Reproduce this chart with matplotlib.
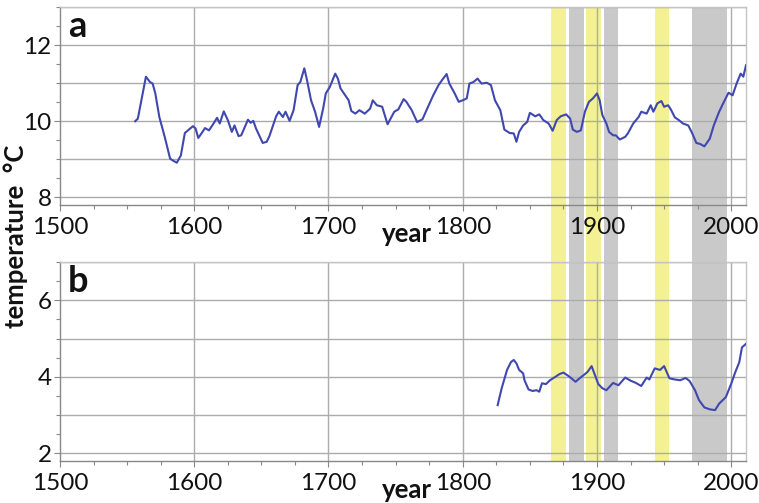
import matplotlib
matplotlib.use('Agg')
import matplotlib.pyplot as plt
from matplotlib.patches import Rectangle
from matplotlib.ticker import MultipleLocator
import matplotlib.transforms as mtransforms

# panel a: temperature series (°C)
years_a = [1556, 1558, 1564, 1567, 1569, 1571, 1574, 1578, 1582, 1584, 1587, 1590,
           1593, 1595, 1599, 1601, 1603, 1605, 1608, 1611, 1614, 1617, 1619, 1622,
           1625, 1628, 1630, 1633, 1635, 1640, 1642, 1644, 1646, 1651, 1654, 1656,
           1661, 1663, 1666, 1668, 1671, 1674, 1677, 1679, 1682, 1684, 1687, 1690,
           1693, 1696, 1698, 1701, 1705, 1707, 1709, 1715, 1717, 1720, 1723, 1727,
           1731, 1733, 1736, 1740, 1744, 1749, 1752, 1756, 1758, 1762, 1766, 1770,
           1773, 1778, 1782, 1785, 1788, 1790, 1794, 1797, 1800, 1803, 1805, 1808,
           1811, 1814, 1818, 1821, 1824, 1828, 1831, 1835, 1838, 1840, 1842, 1845,
           1848, 1850, 1854, 1857, 1860, 1864, 1867, 1870, 1873, 1877, 1880, 1882,
           1885, 1888, 1891, 1894, 1897, 1900, 1902, 1904, 1907, 1909, 1912, 1914,
           1917, 1921, 1923, 1927, 1931, 1933, 1937, 1940, 1942, 1945, 1948, 1950,
           1953, 1955, 1958, 1961, 1964, 1968, 1971, 1974, 1977, 1980, 1984, 1987,
           1991, 1994, 1998, 2001, 2004, 2007, 2009, 2011]
temp_a = [10.0, 10.07, 11.17, 11.03, 10.99, 10.73, 10.11, 9.59, 9.02, 8.97, 8.91, 9.1,
          9.69, 9.75, 9.87, 9.81, 9.56, 9.66, 9.82, 9.76, 9.92, 10.09, 9.94, 10.26,
          10.03, 9.72, 9.89, 9.61, 9.63, 10.04, 9.96, 10.01, 9.81, 9.43, 9.46, 9.61,
          10.13, 10.25, 10.11, 10.25, 10.01, 10.29, 10.95, 11.03, 11.39, 11.08, 10.55, 10.25,
          9.85, 10.33, 10.73, 10.9, 11.25, 11.12, 10.86, 10.55, 10.27, 10.2, 10.29, 10.2,
          10.33, 10.55, 10.42, 10.38, 9.92, 10.25, 10.31, 10.58, 10.51, 10.29, 9.98, 10.05,
          10.29, 10.68, 10.95, 11.1, 11.24, 10.99, 10.73, 10.51, 10.55, 10.6, 10.99, 11.03,
          11.12, 10.99, 11.01, 10.95, 10.55, 10.29, 9.78, 9.69, 9.68, 9.46, 9.72, 9.89,
          9.98, 10.22, 10.13, 10.18, 10.03, 9.94, 9.75, 10.03, 10.13, 10.18, 10.07, 9.78,
          9.72, 9.76, 10.25, 10.51, 10.6, 10.73, 10.55, 10.16, 9.94, 9.72, 9.63, 9.63,
          9.52, 9.59, 9.68, 9.94, 10.11, 10.25, 10.2, 10.42, 10.25, 10.47, 10.53, 10.38,
          10.42, 10.31, 10.1, 10.03, 9.94, 9.89, 9.68, 9.43, 9.4, 9.34, 9.54, 9.89,
          10.25, 10.47, 10.75, 10.68, 10.99, 11.25, 11.17, 11.47]

# panel b: temperature series (°C)
years_b = [1826, 1829, 1833, 1836, 1838, 1840, 1842, 1845, 1846, 1849, 1852, 1855,
           1857, 1859, 1862, 1865, 1869, 1872, 1875, 1878, 1881, 1884, 1887, 1891,
           1893, 1896, 1898, 1901, 1904, 1907, 1912, 1916, 1921, 1925, 1929, 1933,
           1937, 1939, 1943, 1947, 1950, 1954, 1958, 1962, 1966, 1969, 1973, 1976,
           1980, 1984, 1988, 1991, 1996, 2000, 2003, 2006, 2008, 2011]
temp_b = [3.26, 3.7, 4.18, 4.39, 4.44, 4.35, 4.18, 4.09, 3.91, 3.67, 3.63, 3.65,
          3.61, 3.83, 3.81, 3.91, 4.0, 4.07, 4.11, 4.04, 3.96, 3.87, 3.96, 4.07,
          4.13, 4.28, 4.09, 3.81, 3.7, 3.65, 3.84, 3.78, 3.98, 3.9, 3.84, 3.76,
          3.98, 3.93, 4.22, 4.18, 4.28, 3.96, 3.93, 3.91, 3.97, 3.89, 3.65, 3.39,
          3.2, 3.15, 3.13, 3.3, 3.47, 3.82, 4.12, 4.38, 4.77, 4.86]

# shaded periods
yellow_periods = [(1866, 1877), (1892, 1903), (1943, 1954)]
gray_periods = [(1879, 1890), (1905, 1916), (1971, 1997)]

plt.rcParams['font.family'] = ['Lato', 'DejaVu Sans']

line_color = '#4048b0'
grid_color = '#acacac'

fig = plt.figure(figsize=(7.59, 5.03), dpi=100, facecolor='white')
ax_a = fig.add_axes([60 / 759, 1 - 205 / 503, 686 / 759, 198 / 503])
ax_b = fig.add_axes([60 / 759, 1 - 461 / 503, 686 / 759, 199 / 503])

panels = [
    (ax_a, years_a, temp_a, (7.8, 13.0), [8, 10, 12], 'a'),
    (ax_b, years_b, temp_b, (1.8, 7.0), [2, 4, 6], 'b'),
]

for ax, xs, ys, ylim, yticks, tag in panels:
    ax.set_facecolor('none')
    ax.plot(xs, ys, color=line_color, lw=1.5, zorder=3)
    ax.set_xlim(1500, 2011)
    ax.set_ylim(*ylim)
    ax.set_xticks([1500, 1600, 1700, 1800, 1900, 2000])
    ax.xaxis.set_minor_locator(MultipleLocator(25))
    ax.set_yticks(yticks)
    ax.yaxis.set_minor_locator(MultipleLocator(0.5))
    for v in range(int(ylim[0]) + 1, int(ylim[1]) + 1):
        ax.axhline(v, color=grid_color, lw=1.0, zorder=1)
    for v in [1600, 1700, 1800, 1900, 2000]:
        ax.axvline(v, color=grid_color, lw=1.0, zorder=1)
    ax.tick_params(axis='both', which='both', direction='out', color='#888888',
                   labelsize=17.5, labelcolor='#111111')
    ax.tick_params(which='major', length=4, width=0.8)
    ax.tick_params(axis='x', which='major', pad=5)
    ax.tick_params(axis='y', which='major', pad=2)
    ax.tick_params(which='minor', length=3, width=0.8)
    for side in ['left', 'bottom']:
        ax.spines[side].set_color('#888888')
        ax.spines[side].set_linewidth(1.0)
    for side in ['top', 'right']:
        ax.spines[side].set_color('#c4c4c4')
        ax.spines[side].set_linewidth(1.0)
    ax.text(0.012, 0.985, tag, transform=ax.transAxes, fontsize=26,
            fontweight='bold', va='top', ha='left', color='#111111', zorder=4)

# shaded bands running through both panels
trans = mtransforms.blended_transform_factory(ax_a.transData, fig.transFigure)
y0 = 1 - 461 / 503
y1 = 1 - 7 / 503
for periods, col in [(yellow_periods, '#f4f094'), (gray_periods, '#c9c9c9')]:
    for start, end in periods:
        fig.add_artist(Rectangle((start, y0), end - start, y1 - y0, transform=trans,
                                 facecolor=col, edgecolor='none', zorder=-1))

fig.text(407 / 759, 1 - 234 / 503, 'year', fontsize=18.5, fontweight='bold',
         ha='center', va='center', color='#111111')
fig.text(407 / 759, 1 - 490 / 503, 'year', fontsize=18.5, fontweight='bold',
         ha='center', va='center', color='#111111')
fig.text(16 / 759, 1 - 236 / 503, 'temperature  °C', fontsize=18.5, fontweight='bold',
         rotation=90, ha='center', va='center', color='#111111')

fig.savefig('out.png', dpi=100, facecolor='white')
